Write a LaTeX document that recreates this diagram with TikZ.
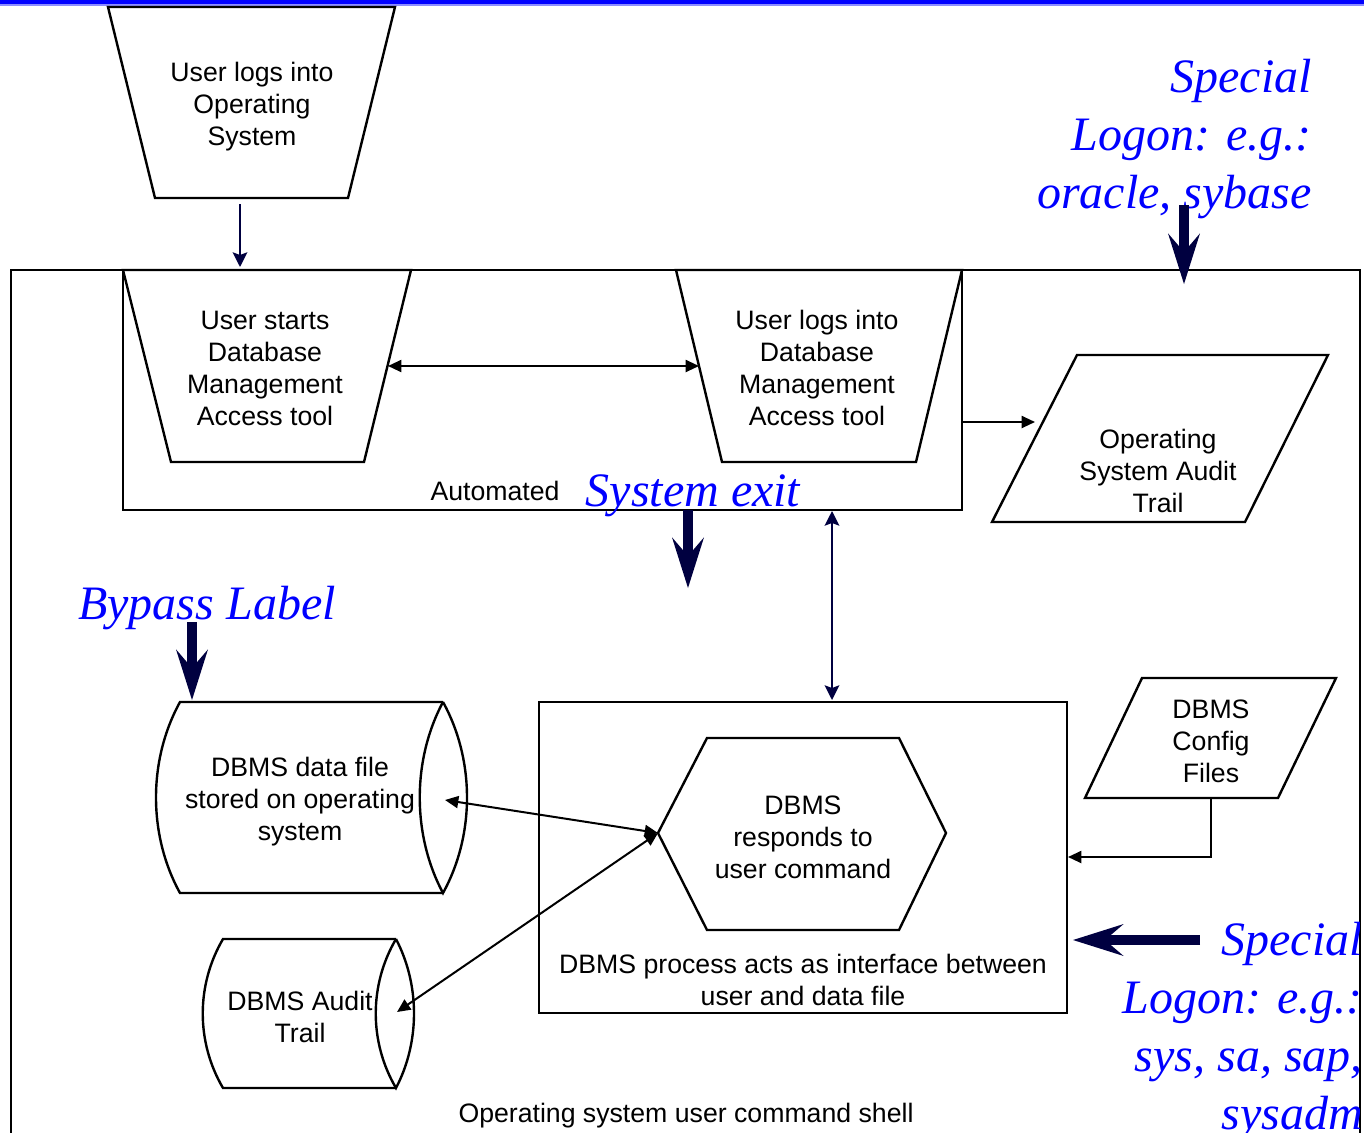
\documentclass[tikz,border=0pt]{standalone}
\usepackage{fontspec}
\setmainfont{Liberation Sans}
\newfontfamily\noteserif{Liberation Serif}
\usetikzlibrary{arrows.meta}
\definecolor{navy}{RGB}{0,0,64}
\definecolor{pureblue}{RGB}{0,0,255}

\begin{document}
\begin{tikzpicture}[x=0.75pt,y=-0.75pt,
  outline/.style={draw=black,line width=1.8pt,line join=miter},
  txt/.style={font=\fontsize{20}{24}\selectfont,align=center,inner sep=0pt},
  note/.style={font=\noteserif\itshape\fontsize{36}{43.5}\selectfont,text=pureblue,inner sep=0pt},
  tip/.tip={Triangle[length=10pt,width=9pt]},
  link/.style={line width=1.5pt,-tip},
  bilink/.style={line width=1.5pt,tip-tip},
  navylink/.style={draw=navy,line width=1.5pt,-{Stealth[length=11pt,width=11pt,inset=2pt]}},
  navybilink/.style={draw=navy,line width=1.5pt,{Stealth[length=11pt,width=11pt,inset=2pt]}-{Stealth[length=11pt,width=11pt,inset=2pt]}},
  heavy/.style={draw=navy,line width=7.5pt,-{Stealth[length=38pt,width=24pt,inset=14pt,line width=0pt]}}
]
\useasboundingbox (0,0) rectangle (1364,1132);

% title rule along the top edge
\fill[pureblue] (0,0) rectangle (1364,4);
\fill[pureblue!45] (0,4) rectangle (1364,5.5);

% operating system shell and the automated frame
\draw[outline] (11,1140) -- (11,270) -- (1360,270) -- (1360,1140);
\draw[outline] (123,270) rectangle (962,510);
\draw[outline] (539,702) rectangle (1067,1013);

% manual operations (trapezoids)
\draw[outline] (108,7) -- (395,7) -- (348,198) -- (155,198) -- cycle;
\draw[outline] (123,270) -- (411,270) -- (364,462) -- (171,462) -- cycle;
\draw[outline] (676,270) -- (962,270) -- (916,462) -- (722,462) -- cycle;

% data (parallelograms)
\draw[outline] (1077,355) -- (1328,355) -- (1245,522) -- (992,522) -- cycle;
\draw[outline] (1142,678) -- (1336,678) -- (1278,798) -- (1085,798) -- cycle;

% process hexagon
\draw[outline] (658,833) -- (707,738) -- (899,738) -- (946,833) -- (899,930) -- (707,930) -- cycle;

% stored data (horizontal drums)
\draw[outline] (443,702) -- (180,702) .. controls (148,760) and (148,835) .. (180,893) -- (443,893);
\draw[outline] (443,702) .. controls (475,760) and (475,835) .. (443,893)
               .. controls (412,835) and (412,760) .. (443,702);
\draw[outline] (396,939) -- (223,939) .. controls (196,985) and (196,1042) .. (223,1088) -- (396,1088);
\draw[outline] (396,939) .. controls (420,985) and (420,1042) .. (396,1088)
               .. controls (369,1042) and (369,985) .. (396,939);

% texts
\node[txt] (oslogin) at (252,107) {User logs into\\Operating\\System};
\node[txt] (startdb) at (265,368) {User starts\\Database\\Management\\Access tool};
\node[txt] (logindb) at (817,368) {User logs into\\Database\\Management\\Access tool};
\node[txt] (osaudit) at (1158,471) {Operating\\System Audit\\Trail};
\node[txt] (datafile) at (300,802) {DBMS data file\\stored on operating\\system};
\node[txt] (audit) at (300,1017) {DBMS Audit\\Trail};
\node[txt] (respond) at (803,837) {DBMS\\responds to\\user command};
\node[txt] (config) at (1211,741) {DBMS\\Config\\Files};
\node[txt] (procnote) at (803,980) {DBMS process acts as interface between\\user and data file};
\node[txt] (automated) at (495,491) {Automated};
\node[txt] (shell) at (686,1116) {Operating system user command shell};

% blue annotations
\node[note,align=right,anchor=east] (oracle) at (1312,139) {Special\\Logon: e.g.:\\oracle, sybase};
\node[note] (sysexit) at (693,496) {System exit};
\node[note] (bypass) at (207,608) {Bypass Label};
\begin{scope}
  \clip (0,0) rectangle (1359,1132);
  \node[note,align=right,anchor=east] (sysnote) at (1363,1031) {Special\\Logon: e.g.:\\sys, sa, sap,\\sysadm};
\end{scope}

% connector end points
\coordinate (osbot) at (240,204);
\coordinate (shelltop) at (240,267);
\coordinate (startR) at (388,366);
\coordinate (loginL) at (699,366);
\coordinate (frameR) at (962,422);
\coordinate (auditL) at (1035,422);
\coordinate (frameB) at (832,511);
\coordinate (procT) at (832,700);
\coordinate (cfgB) at (1211,798);
\coordinate (cfgBend) at (1211,857);
\coordinate (procR) at (1068,857);
\coordinate (hexL) at (658,833);
\coordinate (fileR) at (445,800);
\coordinate (auditR) at (397,1012);

\coordinate (oracleArrowA) at (1184,205);
\coordinate (oracleArrowB) at (1184,284);
\coordinate (exitA) at (688,510);
\coordinate (exitB) at (688,588);
\coordinate (bypassA) at (192,622);
\coordinate (bypassB) at (192,700);
\coordinate (sysA) at (1200,940);
\coordinate (sysB) at (1073,940);

% connectors
\draw[navylink] (osbot) -- (shelltop);
\draw[bilink] (startR) -- (loginL);
\draw[link] (frameR) -- (auditL);
\draw[navybilink] (frameB) -- (procT);
\draw[link] (cfgB) -- (cfgBend) -- (procR);
\draw[bilink] (fileR) -- (hexL);
\draw[bilink] (auditR) -- (hexL);

% heavy annotation arrows
\draw[heavy] (oracleArrowA) -- (oracleArrowB);
\draw[heavy] (exitA) -- (exitB);
\draw[heavy] (bypassA) -- (bypassB);
\draw[heavy] (sysA) -- (sysB);
\end{tikzpicture}
\end{document}
